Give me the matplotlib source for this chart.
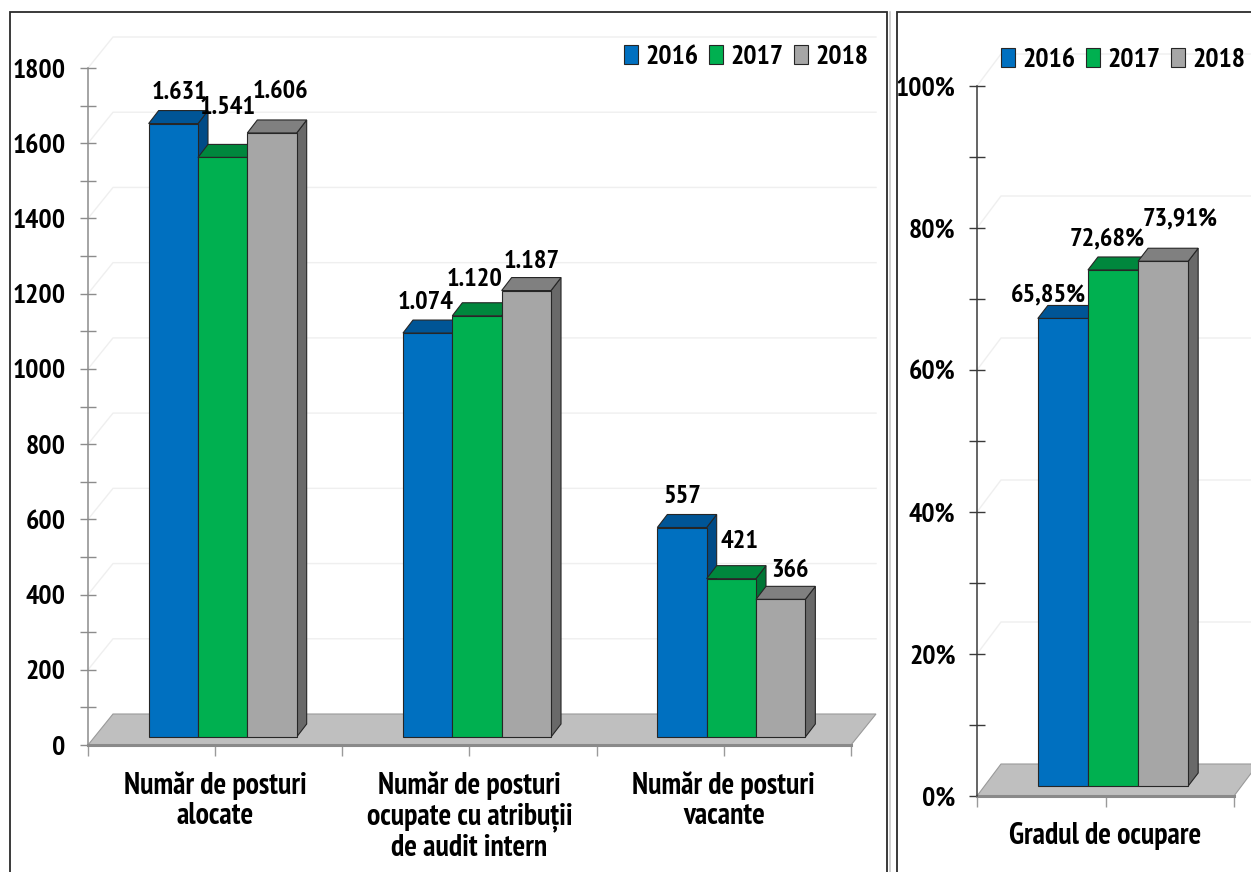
import matplotlib
matplotlib.use("Agg")
import matplotlib.pyplot as plt
from matplotlib import font_manager as fm
from matplotlib.patches import Polygon, Rectangle
from matplotlib.transforms import ScaledTranslation
from matplotlib.lines import Line2D
from matplotlib.ticker import FixedLocator, MultipleLocator
import numpy as np

# ---------------- data ----------------
categories = ["Număr de posturi\nalocate",
              "Număr de posturi\nocupate cu atribuții\nde audit intern",
              "Număr de posturi\nvacante"]
years = ["2016", "2017", "2018"]
posts_2016 = [1631, 1074, 557]
posts_2017 = [1541, 1120, 421]
posts_2018 = [1606, 1187, 366]

rate_category = ["Gradul de ocupare"]
rate_2016 = [65.85]
rate_2017 = [72.68]
rate_2018 = [73.91]

left_yticks = [0, 200, 400, 600, 800, 1000, 1200, 1400, 1600, 1800]
right_yticks = [0, 20, 40, 60, 80, 100]

# ---------------- style ----------------
_installed = {f.name for f in fm.fontManager.ttflist}
FONT = [f for f in ["PT Sans Narrow", "Roboto Condensed", "Liberation Sans Narrow"]
        if f in _installed] + ["DejaVu Sans"]
plt.rcParams["font.family"] = FONT
plt.rcParams["font.weight"] = "bold"

front_c = ["#0070C0", "#00B050", "#A6A6A6"]
top_c = ["#005596", "#00873D", "#808080"]
side_c = ["#004B87", "#007636", "#696969"]
edge_c = "#262626"

DPI = 100
W, H = 1251, 872
fig = plt.figure(figsize=(W / DPI, H / DPI), dpi=DPI)

# panel frames (figure pixels)
fig.patches.append(Rectangle((10 / W, -0.05), (887 - 10) / W, (H - 12) / H + 0.05,
                             transform=fig.transFigure, fill=False,
                             edgecolor="#2b2b2b", lw=1.3, zorder=0))
fig.add_artist(Line2D([890 / W, 890 / W], [0, (H - 12) / H], transform=fig.transFigure,
                      color="#c8c8c8", lw=1.2))
fig.patches.append(Rectangle((897 / W, -0.05), 0.5, (H - 12) / H + 0.05,
                             transform=fig.transFigure, fill=False,
                             edgecolor="#2b2b2b", lw=1.3, zorder=0))


def px_axes(l, t, r, b):
    return fig.add_axes([l / W, (H - b) / H, (r - l) / W, (b - t) / H])


def draw_panel(ax, ncat, series, width, ymax, bar_shift, depth, floor_d, nudges,
               fmt, yticks, minor_step, ylabel_fmt, cats, spine_col, ypad, xpad, legend_xy):
    ax.set_xlim(-0.5, ncat - 0.5)
    ax.set_ylim(0, ymax)
    ax.patch.set_alpha(0)
    bbox = ax.get_position()
    ax_w_px = bbox.width * W
    ax_h_px = bbox.height * H
    pxx = ax_w_px / ncat          # px per x unit
    pxy = ax_h_px / ymax          # px per y unit
    ddx, ddy = depth[0] / pxx, depth[1] / pxy
    fdx, fdy = floor_d[0] / pxx, floor_d[1] / pxy
    x0, x1 = -0.5, ncat - 0.5

    # back-wall gridlines
    for v in yticks[1:]:
        ax.plot([x0, x0 + fdx, x1 + fdx], [v, v + fdy, v + fdy], color="#efefef",
                lw=1.0, zorder=0.5, clip_on=False)
    # floor
    floor = Polygon([[x0, 0], [x1, 0], [x1 + fdx, fdy], [x0 + fdx, fdy]], closed=True,
                    facecolor="#BFBFBF", edgecolor="#9a9a9a", lw=0.8, zorder=1,
                    clip_on=False)
    ax.add_patch(floor)

    shift = ScaledTranslation(bar_shift[0] / DPI, bar_shift[1] / DPI, fig.dpi_scale_trans)
    tr = ax.transData + shift
    xs = np.arange(ncat)
    handles = []
    for i, vals in enumerate(series):
        z = 3 + i
        xc = xs + (i - 1) * width
        bars = ax.bar(xc, vals, width=width, color=front_c[i], edgecolor=edge_c,
                      lw=0.8, zorder=z + 0.5, label=years[i])
        for b in bars:
            b.set_transform(tr)
            b.set_clip_on(False)
        handles.append(bars)
        for xcen, v in zip(xc, vals):
            l, r = xcen - width / 2, xcen + width / 2
            topp = Polygon([[l, v], [r, v], [r + ddx, v + ddy], [l + ddx, v + ddy]],
                           closed=True, facecolor=top_c[i], edgecolor=edge_c, lw=0.8,
                           zorder=z, transform=tr, clip_on=False)
            sidep = Polygon([[r, 0], [r, v], [r + ddx, v + ddy], [r + ddx, ddy]],
                            closed=True, facecolor=side_c[i], edgecolor=edge_c, lw=0.8,
                            zorder=z, transform=tr, clip_on=False)
            ax.add_patch(sidep)
            ax.add_patch(topp)
        for j, (xcen, v) in enumerate(zip(xc, vals)):
            nx, ny = nudges[i][j]
            ox = bar_shift[0] + 5 + nx
            oy = bar_shift[1] + depth[1] + 18 + ny
            ax.annotate(fmt(v), (xcen, v), xytext=(ox * 0.72, oy * 0.72),
                        textcoords="offset points", ha="center", va="center",
                        fontsize=19, fontweight="bold", color="black", zorder=20,
                        annotation_clip=False)

    # axes styling
    for s in ["top", "right"]:
        ax.spines[s].set_visible(False)
    ax.spines["left"].set_color(spine_col)
    ax.spines["left"].set_linewidth(1.1)
    ax.spines["bottom"].set_color("#8a8a8a")
    ax.spines["bottom"].set_linewidth(2.2)
    ax.spines["bottom"].set_zorder(2)
    ax.yaxis.set_major_locator(FixedLocator(yticks))
    ax.yaxis.set_minor_locator(MultipleLocator(minor_step))
    ax.set_yticklabels([ylabel_fmt(t) for t in yticks])
    ax.tick_params(axis="y", which="both", direction="inout", length=12, width=1.0,
                   color=spine_col, pad=ypad)
    ax.tick_params(axis="y", which="major", labelsize=20)
    ax.set_xticks(xs)
    ax.set_xticklabels(cats, fontsize=21.5, fontweight="bold", linespacing=1.1)
    ax.set_xticks(np.arange(-0.5, ncat, 1.0), minor=True)
    ax.tick_params(axis="x", which="both", direction="out", length=8, width=1.0,
                   color="#9a9a9a", pad=xpad)
    for lab in ax.get_yticklabels():
        lab.set_fontweight("bold")

    fig.legend(handles=handles, labels=years, loc="center right",
               bbox_to_anchor=legend_xy, bbox_transform=fig.transFigure,
               ncol=3, frameon=False, prop={"weight": "bold", "size": 20, "family": FONT},
               handlelength=0.5, handleheight=0.68, handletextpad=0.25,
               columnspacing=0.4, borderpad=0, borderaxespad=0)
    return ax


# ---------------- left panel ----------------
axL = px_axes(88, 68, 851, 745)
draw_panel(axL, 3, [posts_2016, posts_2017, posts_2018], 0.194, 1800,
           bar_shift=(7.5, 8), depth=(10, 13), floor_d=(25, 31),
           nudges=[[(1.5, 0), (-7, 0), (-5, 0)],
                   [(0, 18.5), (-7.5, 5), (3.5, 5.7)],
                   [(3.5, 10), (0, -2), (4.5, -2)]],
           fmt=lambda v: f"{v:,}".replace(",", "."),
           yticks=left_yticks, minor_step=100, ylabel_fmt=lambda t: f"{t}",
           cats=categories, spine_col="#8c8c8c", ypad=10, xpad=11,
           legend_xy=(868 / W, 1 - 57 / H))

# ---------------- right panel ----------------
axR = px_axes(977, 86, 1234, 796)
draw_panel(axR, 1, [rate_2016, rate_2017, rate_2018], 0.195, 100,
           bar_shift=(7.5, 10), depth=(10, 13), floor_d=(24, 32),
           nudges=[[(-19, -7.5)], [(-11, 0)], [(12, 11)]],
           fmt=lambda v: f"{v:.2f}%".replace(".", ","),
           yticks=right_yticks, minor_step=10, ylabel_fmt=lambda t: f"{t}%",
           cats=rate_category, spine_col="#3a3a3a", ypad=9.5, xpad=11,
           legend_xy=(1245 / W, 1 - 60 / H))

fig.savefig("out.png", dpi=DPI)
